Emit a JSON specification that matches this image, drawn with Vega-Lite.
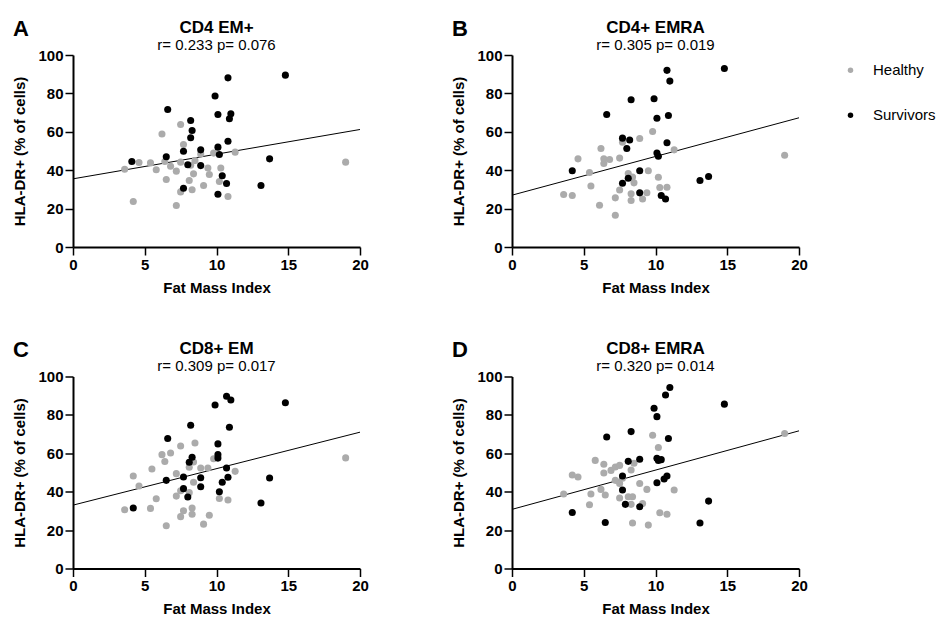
{
"$schema":"https://vega.github.io/schema/vega-lite/v6.json",
"padding":{"left":12,"top":17,"right":0,"bottom":0},
"background":"white",
"datasets":{
"fits":[
{"panel":"A","fmi":0,"hla":35.5},{"panel":"A","fmi":20,"hla":61.2},
{"panel":"B","fmi":0,"hla":27.0},{"panel":"B","fmi":20,"hla":67.3},
{"panel":"C","fmi":0,"hla":33.0},{"panel":"C","fmi":20,"hla":71.0},
{"panel":"D","fmi":0,"hla":30.8},{"panel":"D","fmi":20,"hla":71.7}],
"pts":[
{"panel":"A","group":"Healthy","fmi":3.6,"hla":40.5},{"panel":"A","group":"Healthy","fmi":4.6,"hla":44.0},{"panel":"A","group":"Healthy","fmi":5.4,"hla":43.8},{"panel":"A","group":"Healthy","fmi":5.8,"hla":40.2},{"panel":"A","group":"Healthy","fmi":6.4,"hla":44.5},{"panel":"A","group":"Healthy","fmi":6.8,"hla":42.1},{"panel":"A","group":"Healthy","fmi":7.2,"hla":39.5},{"panel":"A","group":"Healthy","fmi":7.5,"hla":44.2},{"panel":"A","group":"Healthy","fmi":8.2,"hla":42.6},{"panel":"A","group":"Healthy","fmi":8.5,"hla":45.0},{"panel":"A","group":"Healthy","fmi":8.4,"hla":38.1},{"panel":"A","group":"Healthy","fmi":8.1,"hla":34.6},{"panel":"A","group":"Healthy","fmi":6.5,"hla":35.2},{"panel":"A","group":"Healthy","fmi":7.5,"hla":28.7},{"panel":"A","group":"Healthy","fmi":8.3,"hla":29.8},{"panel":"A","group":"Healthy","fmi":9.1,"hla":32.0},{"panel":"A","group":"Healthy","fmi":9.5,"hla":37.8},{"panel":"A","group":"Healthy","fmi":9.4,"hla":41.1},{"panel":"A","group":"Healthy","fmi":10.3,"hla":41.1},{"panel":"A","group":"Healthy","fmi":10.2,"hla":34.1},{"panel":"A","group":"Healthy","fmi":10.8,"hla":26.3},{"panel":"A","group":"Healthy","fmi":7.2,"hla":21.6},{"panel":"A","group":"Healthy","fmi":4.2,"hla":23.7},{"panel":"A","group":"Healthy","fmi":8.9,"hla":48.5},{"panel":"A","group":"Healthy","fmi":9.8,"hla":48.9},{"panel":"A","group":"Healthy","fmi":11.3,"hla":49.4},{"panel":"A","group":"Healthy","fmi":7.7,"hla":53.4},{"panel":"A","group":"Healthy","fmi":7.5,"hla":63.8},{"panel":"A","group":"Healthy","fmi":6.2,"hla":58.9},{"panel":"A","group":"Healthy","fmi":19.0,"hla":44.2},
{"panel":"A","group":"Survivors","fmi":14.8,"hla":89.5},{"panel":"A","group":"Survivors","fmi":10.8,"hla":88.1},{"panel":"A","group":"Survivors","fmi":9.9,"hla":78.6},{"panel":"A","group":"Survivors","fmi":6.6,"hla":71.6},{"panel":"A","group":"Survivors","fmi":10.1,"hla":69.0},{"panel":"A","group":"Survivors","fmi":11.0,"hla":69.4},{"panel":"A","group":"Survivors","fmi":10.9,"hla":66.8},{"panel":"A","group":"Survivors","fmi":8.2,"hla":65.9},{"panel":"A","group":"Survivors","fmi":8.3,"hla":60.7},{"panel":"A","group":"Survivors","fmi":8.2,"hla":56.9},{"panel":"A","group":"Survivors","fmi":10.8,"hla":55.1},{"panel":"A","group":"Survivors","fmi":7.7,"hla":49.9},{"panel":"A","group":"Survivors","fmi":8.9,"hla":50.6},{"panel":"A","group":"Survivors","fmi":10.1,"hla":52.0},{"panel":"A","group":"Survivors","fmi":10.2,"hla":48.2},{"panel":"A","group":"Survivors","fmi":6.5,"hla":47.0},{"panel":"A","group":"Survivors","fmi":4.1,"hla":44.5},{"panel":"A","group":"Survivors","fmi":13.7,"hla":45.9},{"panel":"A","group":"Survivors","fmi":8.0,"hla":42.8},{"panel":"A","group":"Survivors","fmi":8.9,"hla":42.4},{"panel":"A","group":"Survivors","fmi":10.4,"hla":37.1},{"panel":"A","group":"Survivors","fmi":10.7,"hla":33.1},{"panel":"A","group":"Survivors","fmi":13.1,"hla":32.0},{"panel":"A","group":"Survivors","fmi":7.7,"hla":30.6},{"panel":"A","group":"Survivors","fmi":10.1,"hla":27.5},
{"panel":"B","group":"Healthy","fmi":19.0,"hla":47.8},{"panel":"B","group":"Healthy","fmi":9.8,"hla":60.2},{"panel":"B","group":"Healthy","fmi":8.9,"hla":56.5},{"panel":"B","group":"Healthy","fmi":7.7,"hla":54.6},{"panel":"B","group":"Healthy","fmi":11.3,"hla":50.6},{"panel":"B","group":"Healthy","fmi":6.2,"hla":51.3},{"panel":"B","group":"Healthy","fmi":4.6,"hla":45.9},{"panel":"B","group":"Healthy","fmi":6.4,"hla":45.9},{"panel":"B","group":"Healthy","fmi":6.8,"hla":45.6},{"panel":"B","group":"Healthy","fmi":6.4,"hla":43.5},{"panel":"B","group":"Healthy","fmi":7.5,"hla":46.3},{"panel":"B","group":"Healthy","fmi":5.4,"hla":38.8},{"panel":"B","group":"Healthy","fmi":3.6,"hla":27.3},{"panel":"B","group":"Healthy","fmi":4.2,"hla":26.8},{"panel":"B","group":"Healthy","fmi":5.5,"hla":31.8},{"panel":"B","group":"Healthy","fmi":6.1,"hla":21.7},{"panel":"B","group":"Healthy","fmi":7.2,"hla":16.5},{"panel":"B","group":"Healthy","fmi":7.2,"hla":25.6},{"panel":"B","group":"Healthy","fmi":7.5,"hla":29.7},{"panel":"B","group":"Healthy","fmi":8.1,"hla":38.3},{"panel":"B","group":"Healthy","fmi":8.4,"hla":36.5},{"panel":"B","group":"Healthy","fmi":8.5,"hla":33.4},{"panel":"B","group":"Healthy","fmi":8.3,"hla":27.7},{"panel":"B","group":"Healthy","fmi":8.3,"hla":24.2},{"panel":"B","group":"Healthy","fmi":9.1,"hla":25.0},{"panel":"B","group":"Healthy","fmi":9.4,"hla":28.3},{"panel":"B","group":"Healthy","fmi":9.5,"hla":39.7},{"panel":"B","group":"Healthy","fmi":10.2,"hla":36.3},{"panel":"B","group":"Healthy","fmi":10.3,"hla":31.0},{"panel":"B","group":"Healthy","fmi":10.8,"hla":31.1},
{"panel":"B","group":"Survivors","fmi":14.8,"hla":93.0},{"panel":"B","group":"Survivors","fmi":10.8,"hla":92.0},{"panel":"B","group":"Survivors","fmi":11.0,"hla":86.4},{"panel":"B","group":"Survivors","fmi":8.3,"hla":76.7},{"panel":"B","group":"Survivors","fmi":9.9,"hla":77.2},{"panel":"B","group":"Survivors","fmi":6.6,"hla":69.0},{"panel":"B","group":"Survivors","fmi":10.1,"hla":67.1},{"panel":"B","group":"Survivors","fmi":10.9,"hla":68.5},{"panel":"B","group":"Survivors","fmi":7.7,"hla":56.7},{"panel":"B","group":"Survivors","fmi":8.2,"hla":55.7},{"panel":"B","group":"Survivors","fmi":8.0,"hla":51.3},{"panel":"B","group":"Survivors","fmi":10.8,"hla":54.3},{"panel":"B","group":"Survivors","fmi":10.1,"hla":49.0},{"panel":"B","group":"Survivors","fmi":10.2,"hla":47.3},{"panel":"B","group":"Survivors","fmi":4.2,"hla":39.7},{"panel":"B","group":"Survivors","fmi":8.9,"hla":39.7},{"panel":"B","group":"Survivors","fmi":8.1,"hla":35.8},{"panel":"B","group":"Survivors","fmi":7.7,"hla":33.2},{"panel":"B","group":"Survivors","fmi":13.1,"hla":34.6},{"panel":"B","group":"Survivors","fmi":13.7,"hla":36.7},{"panel":"B","group":"Survivors","fmi":8.9,"hla":28.2},{"panel":"B","group":"Survivors","fmi":10.4,"hla":26.8},{"panel":"B","group":"Survivors","fmi":10.7,"hla":25.0},
{"panel":"C","group":"Healthy","fmi":19.0,"hla":57.6},{"panel":"C","group":"Healthy","fmi":8.5,"hla":65.4},{"panel":"C","group":"Healthy","fmi":7.5,"hla":63.8},{"panel":"C","group":"Healthy","fmi":6.8,"hla":60.2},{"panel":"C","group":"Healthy","fmi":6.2,"hla":59.3},{"panel":"C","group":"Healthy","fmi":6.4,"hla":55.7},{"panel":"C","group":"Healthy","fmi":9.8,"hla":57.2},{"panel":"C","group":"Healthy","fmi":8.4,"hla":55.5},{"panel":"C","group":"Healthy","fmi":8.1,"hla":52.7},{"panel":"C","group":"Healthy","fmi":5.5,"hla":51.8},{"panel":"C","group":"Healthy","fmi":8.9,"hla":52.3},{"panel":"C","group":"Healthy","fmi":9.4,"hla":52.3},{"panel":"C","group":"Healthy","fmi":11.3,"hla":50.6},{"panel":"C","group":"Healthy","fmi":7.2,"hla":49.4},{"panel":"C","group":"Healthy","fmi":4.2,"hla":48.2},{"panel":"C","group":"Healthy","fmi":4.6,"hla":43.0},{"panel":"C","group":"Healthy","fmi":8.4,"hla":44.9},{"panel":"C","group":"Healthy","fmi":7.5,"hla":40.5},{"panel":"C","group":"Healthy","fmi":7.2,"hla":37.7},{"panel":"C","group":"Healthy","fmi":5.8,"hla":36.3},{"panel":"C","group":"Healthy","fmi":8.1,"hla":39.5},{"panel":"C","group":"Healthy","fmi":10.2,"hla":36.5},{"panel":"C","group":"Healthy","fmi":10.8,"hla":35.7},{"panel":"C","group":"Healthy","fmi":3.6,"hla":30.6},{"panel":"C","group":"Healthy","fmi":5.4,"hla":31.3},{"panel":"C","group":"Healthy","fmi":7.7,"hla":30.1},{"panel":"C","group":"Healthy","fmi":7.5,"hla":27.0},{"panel":"C","group":"Healthy","fmi":8.3,"hla":31.5},{"panel":"C","group":"Healthy","fmi":8.3,"hla":28.3},{"panel":"C","group":"Healthy","fmi":9.5,"hla":27.7},{"panel":"C","group":"Healthy","fmi":9.1,"hla":23.1},{"panel":"C","group":"Healthy","fmi":6.5,"hla":22.3},
{"panel":"C","group":"Survivors","fmi":10.7,"hla":89.7},{"panel":"C","group":"Survivors","fmi":11.0,"hla":87.8},{"panel":"C","group":"Survivors","fmi":9.9,"hla":85.2},{"panel":"C","group":"Survivors","fmi":14.8,"hla":86.3},{"panel":"C","group":"Survivors","fmi":8.2,"hla":74.6},{"panel":"C","group":"Survivors","fmi":10.9,"hla":73.6},{"panel":"C","group":"Survivors","fmi":6.6,"hla":67.7},{"panel":"C","group":"Survivors","fmi":10.1,"hla":64.9},{"panel":"C","group":"Survivors","fmi":10.1,"hla":59.3},{"panel":"C","group":"Survivors","fmi":10.1,"hla":57.5},{"panel":"C","group":"Survivors","fmi":8.3,"hla":57.9},{"panel":"C","group":"Survivors","fmi":8.1,"hla":55.3},{"panel":"C","group":"Survivors","fmi":10.7,"hla":52.3},{"panel":"C","group":"Survivors","fmi":6.5,"hla":45.9},{"panel":"C","group":"Survivors","fmi":7.7,"hla":47.7},{"panel":"C","group":"Survivors","fmi":8.9,"hla":47.3},{"panel":"C","group":"Survivors","fmi":10.8,"hla":47.5},{"panel":"C","group":"Survivors","fmi":10.4,"hla":44.9},{"panel":"C","group":"Survivors","fmi":8.9,"hla":42.6},{"panel":"C","group":"Survivors","fmi":7.7,"hla":41.6},{"panel":"C","group":"Survivors","fmi":10.2,"hla":40.0},{"panel":"C","group":"Survivors","fmi":8.0,"hla":37.2},{"panel":"C","group":"Survivors","fmi":13.7,"hla":47.1},{"panel":"C","group":"Survivors","fmi":13.1,"hla":34.1},{"panel":"C","group":"Survivors","fmi":4.2,"hla":31.5},
{"panel":"D","group":"Healthy","fmi":19.0,"hla":70.3},{"panel":"D","group":"Healthy","fmi":9.8,"hla":69.4},{"panel":"D","group":"Healthy","fmi":10.2,"hla":63.0},{"panel":"D","group":"Healthy","fmi":5.8,"hla":56.3},{"panel":"D","group":"Healthy","fmi":6.4,"hla":54.3},{"panel":"D","group":"Healthy","fmi":6.4,"hla":49.7},{"panel":"D","group":"Healthy","fmi":6.9,"hla":51.1},{"panel":"D","group":"Healthy","fmi":7.2,"hla":52.9},{"panel":"D","group":"Healthy","fmi":7.5,"hla":53.7},{"panel":"D","group":"Healthy","fmi":8.5,"hla":54.8},{"panel":"D","group":"Healthy","fmi":8.3,"hla":51.3},{"panel":"D","group":"Healthy","fmi":7.7,"hla":47.0},{"panel":"D","group":"Healthy","fmi":7.2,"hla":45.9},{"panel":"D","group":"Healthy","fmi":7.5,"hla":44.3},{"panel":"D","group":"Healthy","fmi":4.2,"hla":48.7},{"panel":"D","group":"Healthy","fmi":4.6,"hla":47.7},{"panel":"D","group":"Healthy","fmi":6.2,"hla":41.2},{"panel":"D","group":"Healthy","fmi":8.9,"hla":44.3},{"panel":"D","group":"Healthy","fmi":9.4,"hla":41.2},{"panel":"D","group":"Healthy","fmi":11.3,"hla":40.9},{"panel":"D","group":"Healthy","fmi":3.6,"hla":38.8},{"panel":"D","group":"Healthy","fmi":5.5,"hla":38.8},{"panel":"D","group":"Healthy","fmi":6.5,"hla":38.3},{"panel":"D","group":"Healthy","fmi":7.5,"hla":36.7},{"panel":"D","group":"Healthy","fmi":8.1,"hla":37.4},{"panel":"D","group":"Healthy","fmi":8.4,"hla":37.4},{"panel":"D","group":"Healthy","fmi":8.3,"hla":33.4},{"panel":"D","group":"Healthy","fmi":9.1,"hla":33.9},{"panel":"D","group":"Healthy","fmi":5.4,"hla":33.2},{"panel":"D","group":"Healthy","fmi":10.3,"hla":29.0},{"panel":"D","group":"Healthy","fmi":10.8,"hla":28.3},{"panel":"D","group":"Healthy","fmi":8.4,"hla":23.7},{"panel":"D","group":"Healthy","fmi":9.5,"hla":22.6},
{"panel":"D","group":"Survivors","fmi":11.0,"hla":94.3},{"panel":"D","group":"Survivors","fmi":10.7,"hla":90.4},{"panel":"D","group":"Survivors","fmi":14.8,"hla":85.6},{"panel":"D","group":"Survivors","fmi":9.9,"hla":83.5},{"panel":"D","group":"Survivors","fmi":10.1,"hla":79.1},{"panel":"D","group":"Survivors","fmi":8.3,"hla":71.3},{"panel":"D","group":"Survivors","fmi":6.6,"hla":68.5},{"panel":"D","group":"Survivors","fmi":10.9,"hla":67.7},{"panel":"D","group":"Survivors","fmi":8.9,"hla":56.9},{"panel":"D","group":"Survivors","fmi":8.1,"hla":55.8},{"panel":"D","group":"Survivors","fmi":10.1,"hla":57.4},{"panel":"D","group":"Survivors","fmi":10.2,"hla":56.3},{"panel":"D","group":"Survivors","fmi":10.4,"hla":56.7},{"panel":"D","group":"Survivors","fmi":7.7,"hla":48.2},{"panel":"D","group":"Survivors","fmi":10.8,"hla":48.2},{"panel":"D","group":"Survivors","fmi":10.6,"hla":46.6},{"panel":"D","group":"Survivors","fmi":10.1,"hla":44.7},{"panel":"D","group":"Survivors","fmi":7.7,"hla":40.9},{"panel":"D","group":"Survivors","fmi":7.9,"hla":33.4},{"panel":"D","group":"Survivors","fmi":8.9,"hla":32.2},{"panel":"D","group":"Survivors","fmi":4.2,"hla":29.2},{"panel":"D","group":"Survivors","fmi":6.5,"hla":24.0},{"panel":"D","group":"Survivors","fmi":13.1,"hla":23.7},{"panel":"D","group":"Survivors","fmi":13.7,"hla":35.1}
]},
"vconcat":[
{"hconcat":[
{"title":{"text":"A","anchor":"start","frame":"bounds","fontSize":22,"offset":-22},
 "vconcat":[{"title":{"text":"CD4 EM+","subtitle":"r= 0.233 p= 0.076"},"width":287,"height":192,
  "encoding":{"x":{"field":"fmi","type":"quantitative","scale":{"domain":[0,20],"nice":false},"axis":{"values":[0,5,10,15,20],"title":"Fat Mass Index","titlePadding":8,"labelFlush":false}},"y":{"field":"hla","type":"quantitative","scale":{"domain":[0,100],"nice":false},"axis":{"values":[0,20,40,60,80,100],"title":"HLA-DR+ (% of cells)","titlePadding":10}}},
  "layer":[
   {"data":{"name":"fits"},"transform":[{"filter":"datum.panel === 'A'"}],"mark":{"type":"line","color":"black","strokeWidth":1}},
   {"data":{"name":"pts"},"transform":[{"filter":"datum.panel === 'A'"}],"mark":{"type":"circle","size":50,"opacity":1},"encoding":{"color":{"field":"group","type":"nominal","scale":{"domain":["Healthy","Survivors"],"range":["#ababab","#000000"]},"legend":{"title":null}}}}
  ]}]},
{"title":{"text":"B","anchor":"start","frame":"bounds","fontSize":22,"offset":-22},
 "vconcat":[{"title":{"text":"CD4+ EMRA","subtitle":"r= 0.305 p= 0.019"},"width":287,"height":192,
  "encoding":{"x":{"field":"fmi","type":"quantitative","scale":{"domain":[0,20],"nice":false},"axis":{"values":[0,5,10,15,20],"title":"Fat Mass Index","titlePadding":8,"labelFlush":false}},"y":{"field":"hla","type":"quantitative","scale":{"domain":[0,100],"nice":false},"axis":{"values":[0,20,40,60,80,100],"title":"HLA-DR+ (% of cells)","titlePadding":10}}},
  "layer":[
   {"data":{"name":"fits"},"transform":[{"filter":"datum.panel === 'B'"}],"mark":{"type":"line","color":"black","strokeWidth":1}},
   {"data":{"name":"pts"},"transform":[{"filter":"datum.panel === 'B'"}],"mark":{"type":"circle","size":50,"opacity":1},"encoding":{"color":{"field":"group","type":"nominal","scale":{"domain":["Healthy","Survivors"],"range":["#ababab","#000000"]},"legend":{"title":null}}}}
  ]}]}
],"spacing":82},
{"hconcat":[
{"title":{"text":"C","anchor":"start","frame":"bounds","fontSize":22,"offset":-22},
 "vconcat":[{"title":{"text":"CD8+ EM","subtitle":"r= 0.309 p= 0.017"},"width":287,"height":192,
  "encoding":{"x":{"field":"fmi","type":"quantitative","scale":{"domain":[0,20],"nice":false},"axis":{"values":[0,5,10,15,20],"title":"Fat Mass Index","titlePadding":8,"labelFlush":false}},"y":{"field":"hla","type":"quantitative","scale":{"domain":[0,100],"nice":false},"axis":{"values":[0,20,40,60,80,100],"title":"HLA-DR+ (% of cells)","titlePadding":10}}},
  "layer":[
   {"data":{"name":"fits"},"transform":[{"filter":"datum.panel === 'C'"}],"mark":{"type":"line","color":"black","strokeWidth":1}},
   {"data":{"name":"pts"},"transform":[{"filter":"datum.panel === 'C'"}],"mark":{"type":"circle","size":50,"opacity":1},"encoding":{"color":{"field":"group","type":"nominal","scale":{"domain":["Healthy","Survivors"],"range":["#ababab","#000000"]},"legend":{"title":null}}}}
  ]}]},
{"title":{"text":"D","anchor":"start","frame":"bounds","fontSize":22,"offset":-22},
 "vconcat":[{"title":{"text":"CD8+ EMRA","subtitle":"r= 0.320 p= 0.014"},"width":287,"height":192,
  "encoding":{"x":{"field":"fmi","type":"quantitative","scale":{"domain":[0,20],"nice":false},"axis":{"values":[0,5,10,15,20],"title":"Fat Mass Index","titlePadding":8,"labelFlush":false}},"y":{"field":"hla","type":"quantitative","scale":{"domain":[0,100],"nice":false},"axis":{"values":[0,20,40,60,80,100],"title":"HLA-DR+ (% of cells)","titlePadding":10}}},
  "layer":[
   {"data":{"name":"fits"},"transform":[{"filter":"datum.panel === 'D'"}],"mark":{"type":"line","color":"black","strokeWidth":1}},
   {"data":{"name":"pts"},"transform":[{"filter":"datum.panel === 'D'"}],"mark":{"type":"circle","size":50,"opacity":1},"encoding":{"color":{"field":"group","type":"nominal","scale":{"domain":["Healthy","Survivors"],"range":["#ababab","#000000"]},"legend":{"title":null}}}}
  ]}]}
],"spacing":82}
],
"spacing":43.5,
"config":{
 "font":"Liberation Sans",
 "view":{"stroke":null},
 "title":{"font":"Liberation Sans","fontSize":17,"fontWeight":"bold","color":"black","subtitleFont":"Liberation Sans","subtitleFontSize":15,"subtitleColor":"black","subtitlePadding":1,"offset":-5.5,"frame":"group"},
 "axis":{"grid":false,"domainColor":"black","domainWidth":2,"tickColor":"black","tickWidth":1.5,"tickSize":8,"labelFont":"Liberation Sans","labelFontSize":15,"labelFontWeight":"bold","labelColor":"black","labelPadding":2,"titleFont":"Liberation Sans","titleFontSize":15,"titleFontWeight":"bold","titleColor":"black"},
 "legend":{"orient":"none","legendX":770,"legendY":7.7,"padding":0,"labelFont":"Liberation Sans","labelFontSize":15,"labelColor":"black","symbolSize":30,"symbolType":"circle","rowPadding":29,"labelOffset":15}
}
}
